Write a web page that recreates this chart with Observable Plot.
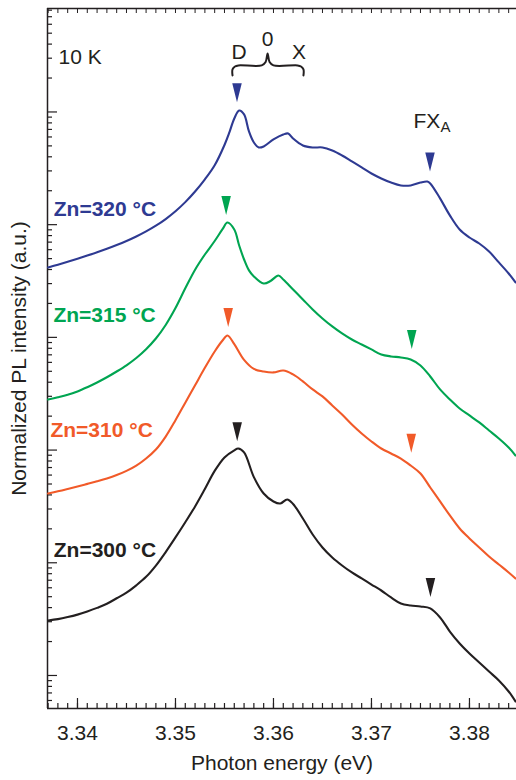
<!DOCTYPE html>
<html>
<head>
<meta charset="utf-8">
<script src="https://cdn.jsdelivr.net/npm/d3@7"></script>
<script src="https://cdn.jsdelivr.net/npm/@observablehq/plot@0.6"></script>
<style>
  html, body { margin: 0; padding: 0; background: #fff; }
  #chart svg { display: block; }
</style>
</head>
<body>
<div id="chart"></div>
<script>
// ---------- data (energies in eV, log10 of normalized PL intensity in a.u.) ----------
const seriesNames = ["Zn=320 °C", "Zn=315 °C", "Zn=310 °C", "Zn=300 °C"];
const seriesColors = ["#2e3a92", "#00a551", "#f15a29", "#231f20"];

const energy320 = [3.337,3.338,3.339,3.340,3.341,3.342,3.343,3.344,3.345,3.346,3.347,3.348,3.349,3.350,3.351,3.352,3.353,3.354,3.355,3.3555,3.356,3.3565,3.357,3.3575,3.358,3.3585,3.359,3.360,3.361,3.3615,3.362,3.363,3.364,3.365,3.366,3.367,3.368,3.369,3.370,3.371,3.372,3.373,3.374,3.375,3.3757,3.376,3.377,3.378,3.379,3.380,3.381,3.382,3.383,3.384,3.3847];
const logI320 = [3.620,3.645,3.671,3.698,3.726,3.755,3.786,3.819,3.855,3.895,3.940,3.991,4.050,4.119,4.200,4.294,4.402,4.527,4.707,4.818,4.942,5.013,4.978,4.827,4.729,4.685,4.694,4.756,4.800,4.809,4.765,4.703,4.685,4.685,4.658,4.614,4.561,4.508,4.454,4.410,4.374,4.348,4.348,4.374,4.383,4.366,4.233,4.082,3.957,3.886,3.833,3.762,3.665,3.567,3.487];

const energy315 = [3.337,3.338,3.339,3.340,3.341,3.342,3.343,3.344,3.345,3.346,3.347,3.348,3.349,3.350,3.351,3.352,3.353,3.354,3.3548,3.3553,3.356,3.3565,3.357,3.3575,3.358,3.359,3.3597,3.3605,3.361,3.362,3.363,3.364,3.365,3.366,3.367,3.368,3.369,3.370,3.371,3.372,3.373,3.374,3.375,3.376,3.377,3.378,3.379,3.380,3.381,3.382,3.383,3.384,3.3847];
const logI315 = [2.449,2.468,2.490,2.520,2.558,2.600,2.646,2.697,2.752,2.817,2.895,2.990,3.110,3.260,3.435,3.600,3.735,3.855,3.960,4.019,3.957,3.815,3.691,3.594,3.540,3.478,3.500,3.549,3.514,3.425,3.336,3.248,3.168,3.097,3.035,2.981,2.937,2.893,2.848,2.831,2.822,2.804,2.751,2.653,2.538,2.449,2.369,2.307,2.245,2.174,2.103,2.023,1.952];

const energy310 = [3.337,3.338,3.339,3.340,3.341,3.342,3.343,3.344,3.345,3.346,3.347,3.348,3.349,3.350,3.351,3.352,3.353,3.354,3.3548,3.3553,3.356,3.357,3.358,3.359,3.360,3.361,3.362,3.363,3.364,3.365,3.366,3.367,3.368,3.369,3.370,3.371,3.372,3.373,3.374,3.375,3.376,3.377,3.378,3.379,3.380,3.381,3.382,3.383,3.384,3.3847];
const logI310 = [1.615,1.634,1.655,1.677,1.700,1.723,1.748,1.778,1.815,1.862,1.925,2.005,2.120,2.265,2.420,2.575,2.730,2.875,2.972,3.017,2.940,2.800,2.720,2.697,2.689,2.706,2.671,2.609,2.538,2.476,2.396,2.316,2.227,2.147,2.076,2.014,1.970,1.925,1.863,1.792,1.668,1.544,1.420,1.304,1.216,1.136,1.056,0.985,0.914,0.861];

const energy300 = [3.337,3.338,3.339,3.340,3.341,3.342,3.343,3.344,3.345,3.346,3.347,3.348,3.349,3.350,3.351,3.352,3.353,3.354,3.355,3.356,3.3564,3.357,3.358,3.359,3.360,3.3607,3.3614,3.362,3.363,3.364,3.365,3.366,3.367,3.368,3.369,3.370,3.371,3.372,3.373,3.374,3.375,3.376,3.377,3.378,3.379,3.380,3.381,3.382,3.383,3.384,3.3847];
const logI300 = [0.488,0.500,0.518,0.540,0.568,0.600,0.636,0.685,0.735,0.800,0.875,0.975,1.095,1.225,1.360,1.500,1.655,1.815,1.935,1.998,2.014,1.979,1.760,1.615,1.544,1.526,1.562,1.522,1.393,1.251,1.136,1.047,0.976,0.914,0.861,0.807,0.754,0.692,0.639,0.621,0.612,0.595,0.515,0.390,0.284,0.195,0.115,0.035,-0.044,-0.142,-0.231];

// peak markers (D and FX_A) per series
const markerSeries = [0, 0, 1, 1, 2, 2, 3, 3];
const markerEnergy = [3.35628, 3.37597, 3.35517, 3.37411, 3.35538, 3.37406, 3.35630, 3.37602];
const markerLogI   = [5.171, 4.555, 4.170, 2.980, 3.177, 2.061, 2.163, 0.781];

// series labels
const labelEnergy = [3.33758, 3.33754, 3.33724, 3.33758];
const labelLogI   = [4.138, 3.198, 2.178, 1.113];

// annotations
const tempLabel = {text: "10 K", energy: 3.33806, logI: 5.487};
const peakText   = ["D", "0", "X"];
const peakEnergy = [3.35648, 3.35939, 3.36260];
const peakLogI   = [5.532, 5.647, 5.532];
const fxLabel = {text: "FX", sub: "A", energy: 3.37429, logI: 4.919};
const braceEnergy = {left: 3.35582, mid: 3.35940, right: 3.36306};
const braceLogI   = {end: 5.324, bar: 5.413, tip: 5.519};

// axis
const energyTicks = [3.34, 3.35, 3.36, 3.37, 3.38];
const energyMinorTicks = d3.range(3337, 3385).map(d => d / 1000);
const xDomain = [3.33694, 3.3848];
const logDomain = [-0.293, 5.918];

// ---------- build tables ----------
const energies = [energy320, energy315, energy310, energy300];
const logs = [logI320, logI315, logI310, logI300];
const curveRows = [];
energies.forEach((es, s) => es.forEach((e, i) => curveRows.push({series: seriesNames[s], color: seriesColors[s], E: e, L: logs[s][i]})));

const markerRows = markerEnergy.map((e, i) => ({E: e, L: markerLogI[i], color: seriesColors[markerSeries[i]]}));
const labelRows = seriesNames.map((n, i) => ({text: n, E: labelEnergy[i], L: labelLogI[i], color: seriesColors[i]}));
const peakRows = peakText.map((t, i) => ({text: t, E: peakEnergy[i], L: peakLogI[i]}));

const b = braceEnergy, bl = braceLogI;
const braceRows = [
  [b.left, bl.end], [b.left, bl.end + (bl.bar - bl.end) * 0.6], [b.left + 0.00025, bl.bar - 0.01], [b.left + 0.0006, bl.bar],
  [b.mid - 0.0006, bl.bar], [b.mid - 0.0002, bl.bar + 0.03], [b.mid, bl.tip], [b.mid + 0.0002, bl.bar + 0.03], [b.mid + 0.0006, bl.bar],
  [b.right - 0.0006, bl.bar], [b.right - 0.00025, bl.bar - 0.01], [b.right, bl.end + (bl.bar - bl.end) * 0.6], [b.right, bl.end]
].map(([E, L]) => ({E, L}));

const yDomain = logDomain.map(v => 10 ** v);
const yMajor = d3.range(0, 6).map(k => 10 ** k);
const yMinor = [];
for (let k = -1; k <= 5; k++) for (let m = 2; m <= 9; m++) {
  const v = m * 10 ** k;
  if (v >= yDomain[0] && v <= yDomain[1]) yMinor.push(v);
}

// down-pointing elongated triangle
const downTriangle = {
  draw(ctx, size) {
    const r = Math.sqrt(size / Math.PI);
    const hw = 0.95 * r, hh = 1.9 * r;
    ctx.moveTo(-hw, -hh); ctx.lineTo(hw, -hh); ctx.lineTo(0, hh); ctx.closePath();
  }
};

const W = 516, H = 780, mL = 47, mR = 0, mT = 8, mB = 72;
const pw = W - mL - mR, ph = H - mT - mB;
const Y = d => 10 ** d.L;
const ink = "#231f20";

const chart = Plot.plot({
  width: W, height: H,
  marginLeft: mL, marginRight: mR, marginTop: mT, marginBottom: mB,
  style: {fontFamily: "'Liberation Sans', Arial, Helvetica, sans-serif", fontSize: "21px", color: ink, background: "#fff"},
  x: {domain: xDomain, axis: null},
  y: {type: "log", domain: yDomain, axis: null},
  color: {type: "identity"},
  marks: [
    // frame
    Plot.ruleX([xDomain[0]], {stroke: ink, strokeWidth: 1.5}),
    Plot.ruleY([yDomain[0], yDomain[1]], {stroke: ink, strokeWidth: 1.5}),
    // x ticks (inward)
    Plot.tickX(energyMinorTicks, {x: d => d, insetTop: ph - 5, stroke: ink, strokeWidth: 1.2}),
    Plot.tickX(energyTicks, {x: d => d, insetTop: ph - 10, stroke: ink, strokeWidth: 1.2}),
    Plot.tickX(energyMinorTicks, {x: d => d, insetBottom: ph - 5, stroke: ink, strokeWidth: 1}),
    // y ticks (inward)
    Plot.tickY(yMinor, {y: d => d, insetRight: pw - 5, stroke: ink, strokeWidth: 1.2}),
    Plot.tickY(yMajor, {y: d => d, insetRight: pw - 10, stroke: ink, strokeWidth: 1.2}),
    Plot.axisX(energyTicks, {tickSize: 0, tickPadding: 17, tickFormat: d3.format(".2f"), fontSize: 21, fill: ink}),
    Plot.text(["Photon energy (eV)"], {frameAnchor: "bottom", textAnchor: "middle", lineAnchor: "middle", dy: 55, fontSize: 21, fill: ink}),
    Plot.text(["Normalized PL intensity (a.u.)"], {frameAnchor: "left", textAnchor: "middle", lineAnchor: "middle", rotate: -90, dx: -28, fontSize: 21, fill: ink}),
    // curves
    Plot.line(curveRows, {x: "E", y: Y, z: "series", stroke: "color", strokeWidth: 2.1, curve: "catmull-rom"}),
    // markers
    Plot.dot(markerRows, {x: "E", y: Y, symbol: downTriangle, r: 5, fill: "color", stroke: "none"}),
    // labels
    Plot.text(labelRows, {x: "E", y: Y, text: "text", fill: "color", textAnchor: "start", fontWeight: "bold", fontSize: 21}),
    Plot.text([tempLabel], {x: "energy", y: d => 10 ** d.logI, text: "text", textAnchor: "start", fill: ink, fontSize: 21}),
    Plot.text(peakRows, {x: "E", y: Y, text: "text", textAnchor: "middle", fill: ink, fontSize: 21}),
    Plot.text([fxLabel], {x: "energy", y: d => 10 ** d.logI, text: "text", textAnchor: "start", fill: ink, fontSize: 21}),
    Plot.text([fxLabel], {x: "energy", y: d => 10 ** d.logI, text: "sub", textAnchor: "start", dx: 27, dy: 6, fill: ink, fontSize: 15}),
    // brace
    Plot.line(braceRows, {x: "E", y: Y, stroke: ink, strokeWidth: 2, curve: "catmull-rom", strokeLinejoin: "round"})
  ]
});
document.getElementById("chart").appendChild(chart);
</script>
</body>
</html>
